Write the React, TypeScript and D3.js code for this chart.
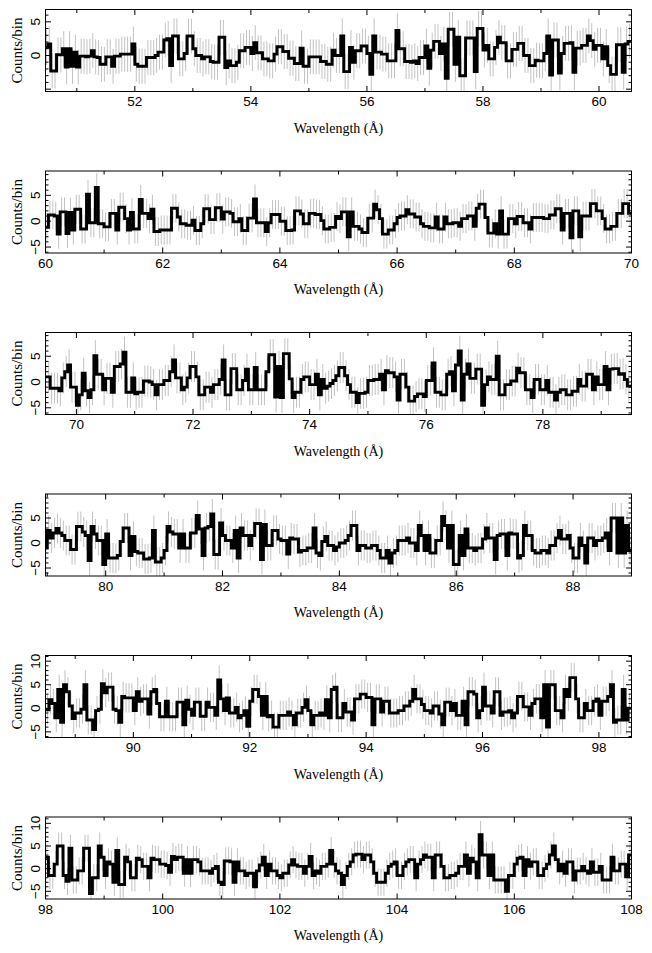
import React from 'react';
import * as d3 from 'd3';

// bin width of the spectrum (Å)
const binWidth = 0.05;

// first bin edge of each panel (Å)
const panelStarts = [50.45, 60.0, 69.45, 78.95, 88.45, 98.0];

// visible wavelength range of each panel
const xDomains = [
  [50.46, 60.56],
  [60, 70],
  [69.47, 79.52],
  [78.97, 89.0],
  [88.49, 98.56],
  [98, 108],
];

// visible counts range of each panel
const yDomains = [
  [-5.35, 6.83],
  [-6.15, 9.7],
  [-6.3, 9.6],
  [-6.6, 9.8],
  [-6.2, 11.2],
  [-6.7, 11.4],
];

// typical 1-sigma error per bin, per panel
const errors = [2.6, 2.8, 3.0, 3.0, 3.1, 3.0];

const yTickLabels = [
  [0, 5],
  [-5, 0, 5],
  [-5, 0, 5],
  [-5, 0, 5],
  [-5, 0, 5, 10],
  [-5, 0, 5, 10],
];

// counts per bin
const counts1 = [
  1.2, 1.7, -2.3, -2.3, 0.1, 0.1, 1.0, -1.7, 1.0, -1.6,
  0.5, -1.7, -0.1, -0.1, -0.2, -0.1, 0.7, -0.2, -0.3, -1.3,
  -1.3, -0.2, -0.2, -1.6, -0.1, -0.1, 0.2, 0.2, 0.2, 0.2,
  1.7, -1.3, -1.6, -1.6, -1.6, -0.3, -0.3, -0.3, 0, 0.5,
  0.5, 2.3, 2.5, -1.5, 2.9, 2.9, -0.5, -0.5, 0.3, 2.9,
  2.9, 1.0, 0, 0, -0.5, -0.2, -0.2, -0.9, -1.0, -1.0,
  2.7, 2.7, -1.8, -0.8, -1.5, -1.5, -1.0, 0.7, 0.7, 1.2,
  1.2, 0.3, 1.9, 0.4, 0.4, -0.5, -0.5, -0.8, -0.8, 0.2,
  1.3, 1.3, 0.6, 0.6, -0.4, -0.4, -1.2, -1.2, 1.1, -1.6,
  -1.6, -0.2, -0.2, -0.2, -0.2, -0.9, -0.9, -1.3, -1.3, 0.8,
  0, 0, 2.9, -2.4, -2.4, 1.2, -1.0, 0.7, 0.7, 1.4,
  1.4, 0.3, -2.8, 2.9, 0.5, 0.5, 0.2, 0.2, -0.8, -0.8,
  -0.8, 3.7, 1.0, 1.0, -0.9, -0.9, -1.0, -0.8, -1.2, -0.3,
  -0.3, 1.4, -1.9, 0.8, 2.1, 2.1, 0.3, 1.7, -3.4, 3.9,
  3.9, -1.3, 2.7, -3.0, -3.0, 2.6, 2.6, 2.6, -2.4, 4.0,
  4.0, 0.8, 1.5, -0.5, -0.5, 1.2, 2.7, 1.9, 1.9, -0.8,
  -0.8, 0.9, 0.9, 1.8, 1.8, 0, 0, -1.5, -1.5, -0.7,
  -0.8, -0.8, 0.3, 2.9, -2.9, 2.3, 2.3, -2.6, 0.3, 1.8,
  1.8, 1.9, -2.5, 1.1, 1.1, 1.5, 1.5, 2.9, 2.2, 0.9,
  1.5, 1.5, -0.5, 1.3, -1.5, -2.8, -2.8, 1.6, 1.6, -2.5,
  1.7, 2.1,
];

const counts2 = [
  -1.2, 1.2, 1.2, 1.0, -2.5, 1.8, 1.8, -2.4, 1.7, -1.7,
  2.3, 2.3, -1.5, -1.5, 5.2, -0.3, -0.3, 6.5, -0.5, -0.5,
  -1.1, -1.1, 1.5, 1.5, -1.7, 2.7, 2.7, 0.5, -1.7, 1.7,
  -1.5, -1.5, 4.2, 1.5, 1.5, 0.5, 2.3, -2.0, -2.0, -1.7,
  -1.7, -1.7, -1.7, 2.5, 2.5, 0.8, -0.5, -0.5, -0.8, -0.8,
  0.2, -1.8, -1.8, -0.5, 2.4, 2.4, 0.3, 0.3, 2.6, 2.6,
  0.4, 1.8, 1.8, 1.5, -0.1, -0.1, 0.5, -1.8, -1.8, 0.6,
  0.6, 4.3, -0.3, -0.3, -0.3, -2.0, -0.3, 1.3, 1.3, 1.3,
  0, 0, -1.8, -1.8, -1.7, 2.0, 2.0, 1.4, -0.5, -0.5,
  1.5, 1.5, 1.3, 1.3, 0.1, -1.5, -1.5, -1.2, -1.2, 0.9,
  0.5, 1.8, 1.8, -3.0, 1.8, -1.0, -1.0, -1.5, -2.2, -2.2,
  0.6, 0.6, 3.3, 2.2, 0.5, -2.5, -2.5, -1.7, -1.7, -0.5,
  0.7, 1.0, 1.0, 2.2, 1.4, 1.4, 0.8, 0.8, -0.5, -1.0,
  -1.0, -1.3, -1.3, 0.8, -1.5, -1.5, 0.8, -0.5, -0.5, -0.3,
  -0.3, -1.0, 0.5, 0.5, 1.0, 1.0, -1.0, 2.5, 3.3, 3.3,
  0.7, -2.3, -2.3, -0.5, -2.5, 2.0, -2.5, -2.5, 0.5, 0.5,
  -0.5, 0.9, 0.9, -0.3, -0.3, -1.5, 0.7, 0.7, 0.7, 0.7,
  0.5, 0.5, 1.2, 1.2, 2.4, 2.4, -1.7, 1.5, 1.5, -3.2,
  2.0, 2.0, -3.0, 1.0, 1.0, 1.0, 3.4, 3.4, 2.0, 2.0,
  0.5, -1.5, -1.5, -1.0, -1.0, 1.5, 1.5, 3.4, 3.4, 1.5,
];

const counts3 = [
  1.0, 1.0, -1.2, -1.2, -1.2, -1.7, 0.8, 2.0, 3.3, -1.0,
  -1.0, -4.5, -2.5, 1.7, -1.7, -3.0, -1.5, 5.1, 1.5, 1.5,
  -1.5, 0.7, 0.7, -2.0, 3.0, 3.0, 3.5, 5.8, -2.0, -2.0,
  0.8, -2.3, -2.0, -2.0, 0.2, 0.2, 0, -0.5, -2.5, -0.5,
  -0.5, 0.3, 0.3, 2.0, 4.3, 0.8, 0.8, -1.5, -1.0, 0.8,
  3.0, 3.0, 1.0, -2.5, -2.5, -1.0, -1.0, -2.0, -0.5, -0.5,
  0.5, 4.3, -2.5, -2.5, 2.6, 2.6, -1.5, -1.5, 0.3, 2.5,
  -1.5, -1.5, 2.8, -1.5, -1.5, -1.5, 2.0, 5.3, 5.3, -2.9,
  3.0, -3.0, 5.5, 5.5, 0.6, -3.0, -2.0, -2.0, 0.5, 1.0,
  1.0, -0.5, -0.5, 1.5, -2.5, 0.5, -1.2, -0.8, -0.3, 0.3,
  1.2, 2.8, 2.8, 1.2, -0.5, -2.0, -2.0, -4.0, -2.2, -2.2,
  -2.0, 0.3, 0.3, 0.5, 0.5, 1.5, -1.5, 2.2, 1.8, 1.8,
  1.0, -3.5, 1.5, 1.5, -1.0, -3.7, -3.7, -2.8, -2.3, -2.3,
  -2.8, 0.3, 0.3, 3.7, -2.0, -2.0, -2.5, -2.5, 1.5, 2.0,
  -1.7, 3.3, 6.0, -3.5, 1.5, 3.5, 0.7, 0.7, 2.5, 2.5,
  -4.5, -0.5, 1.0, 0.5, 0.5, 5.0, -2.5, -2.5, -0.5, -0.5,
  0.2, 0.2, 2.7, 1.8, 1.8, -1.5, -1.5, -3.0, 0.5, 0.5,
  -1.5, -1.5, 0.3, -2.0, -2.0, -3.5, -2.0, -1.5, -1.5, -2.5,
  -2.5, -1.8, -1.8, 0.5, -0.8, -0.8, 1.5, 1.5, -1.5, 1.0,
  -0.5, -0.5, 3.0, -1.5, 2.5, 2.6, 2.6, 1.5, 1.6, 0.5,
  -0.8, -0.8,
];

const counts4 = [
  -1.0, 2.5, 1.0, 2.0, 2.9, 2.0, 1.5, 0.5, 0.5, -1.3,
  -1.3, 3.3, 3.3, 2.2, 1.5, -3.5, 3.3, 1.8, 0.5, 0.5,
  -4.3, 1.8, -3.0, -3.0, -3.0, -2.5, 0.3, 3.0, 3.0, -2.5,
  1.3, -1.7, -2.0, -2.0, -3.2, -3.2, -3.0, 2.5, -3.8, -3.8,
  -3.0, -1.5, 3.3, 2.2, 1.8, 1.8, -1.0, 1.8, -1.0, -1.0,
  2.0, 2.0, 5.5, 2.8, -2.5, 3.0, 3.3, 5.8, -2.3, -2.3,
  4.0, 1.5, 0.5, 0.5, -1.0, 2.5, -3.0, 3.0, 1.5, 1.5,
  -0.5, 1.5, 3.9, 3.9, -3.3, 3.7, -0.5, -0.5, 2.5, 2.5,
  0.8, 0.5, 0.5, -2.2, 1.0, 0.8, 0.8, -1.8, -1.5, -1.5,
  -1.0, -1.0, 3.0, -2.0, -2.5, 0.3, 1.3, -0.5, -0.5, -1.5,
  -0.8, 0, 0, 0.5, 1.5, 3.5, 3.5, -1.5, -0.5, -0.5,
  -1.0, -1.0, -0.5, -0.5, -1.5, -3.0, -3.0, -1.5, -4.0, -2.0,
  -1.5, 0.5, 0.5, 0.5, 1.0, 0, 0, -1.5, 3.5, 1.5,
  -1.5, 1.5, -2.0, -2.0, 0.5, 0.5, 5.3, 3.5, -1.0, 3.5,
  -4.3, -4.3, 1.5, -2.5, 2.8, -1.0, -1.0, -1.5, -1.0, -1.0,
  0.8, 3.0, 1.0, 1.0, -3.3, 1.5, 1.8, 1.8, -2.5, 2.0,
  1.8, 1.8, -3.0, -2.5, 3.5, 1.5, 1.5, -1.5, -2.0, -2.0,
  -1.5, -1.5, -2.0, -0.5, -0.5, 1.0, 2.5, 0.8, 0.8, 1.5,
  -1.0, -3.0, -3.0, 1.0, -0.5, -4.0, 1.0, 1.0, -0.5, 0.5,
  0.5, 1.0, 2.0, -1.5, 5.0, 5.0, -2.0, 5.0, -2.0, 3.5,
  -1.5,
];

const counts5 = [
  -0.3, -0.3, 1.8, 1.0, -2.0, 4.0, -3.0, 5.0, 3.5, 0.5,
  -2.2, -1.0, -1.0, -0.2, 5.0, -2.5, -2.5, -4.5, -0.5, -0.2,
  5.2, 3.3, 4.5, 4.5, -0.2, -0.5, -3.0, 2.5, 2.2, 2.2,
  2.2, -0.5, 3.5, 1.5, 2.0, 2.0, -1.2, 3.5, 4.0, 1.0,
  -1.8, -1.8, 1.5, -1.8, -1.8, -1.8, 1.3, 1.3, -3.5, 1.7,
  -0.2, -1.5, 1.3, 1.3, -1.7, -1.7, 1.3, 0.2, 0.2, -1.5,
  6.0, 2.0, -0.5, 2.2, -1.0, -1.0, 0.2, -2.0, -1.5, -0.5,
  -3.8, 1.5, 4.0, 4.0, 2.5, -1.5, 2.5, -1.8, -1.5, -4.0,
  -4.0, -1.5, -1.5, -1.5, -0.8, -1.5, -3.5, -1.0, -1.0, 0.2,
  1.8, -0.5, -3.5, -1.5, -1.5, -1.0, -1.5, 1.8, -2.0, 4.0,
  4.5, -2.0, -2.0, 1.0, -0.8, -0.8, -2.5, 2.0, 2.0, 3.0,
  3.0, 2.3, 2.3, -3.5, 2.0, 2.0, -0.8, 1.5, 1.5, -1.0,
  -1.0, -1.0, -0.5, -0.5, 0.5, 0.5, 1.5, 4.0, 2.0, 2.0,
  0.8, -0.5, -0.5, -1.0, 0.5, 0.5, -1.2, -3.5, 1.3, 1.3,
  -0.5, 1.0, -1.5, -1.5, 1.5, -3.5, 3.5, 3.5, 3.0, -2.0,
  -0.5, 4.5, 0.5, 0.5, -1.0, 3.5, 3.5, -1.5, -0.8, -0.8,
  -0.5, -2.0, -1.0, 2.5, 2.5, 0.3, 0.3, -1.5, 1.0, 2.0,
  2.0, -2.0, 5.0, -4.0, 5.0, 5.0, -0.5, -0.5, -2.0, 4.0,
  2.5, 6.5, 6.5, 2.0, -2.0, -2.0, 1.0, -0.5, -0.5, 1.5,
  2.0, -1.5, 1.5, 1.5, 2.5, 5.0, -3.0, -2.5, -2.5, 4.0,
  -2.5, 0,
];

const counts6 = [
  2.5, -1.5, -1.5, 1.0, 5.0, 5.0, -1.5, -2.8, 4.5, -2.5,
  -2.5, -0.5, -0.5, 4.5, 4.5, -5.5, -2.0, -2.0, 5.0, 2.5,
  -1.5, 1.5, 1.0, -3.0, 4.0, -3.5, -3.5, 2.5, 1.5, -2.0,
  -2.0, 2.3, 2.0, 0.5, 0.5, -2.0, 2.3, 2.0, 2.0, 1.0,
  1.0, 0.7, -0.8, 2.7, 2.0, 2.5, 2.5, -1.0, 2.0, -1.0,
  2.0, 2.0, 1.5, -0.5, -0.5, -0.5, -1.0, 0, 0.5, -3.0,
  -3.5, 1.7, 1.7, 1.5, -3.0, 1.5, -0.5, -0.5, -1.5, -1.0,
  -1.0, -4.0, -0.5, 0.8, 2.5, -1.5, 1.0, -0.5, -0.5, -1.5,
  -2.0, -1.0, -1.0, 0.8, 2.0, 0.8, 0.5, 0.5, -1.0, 0.5,
  2.7, -1.5, -0.5, -1.0, 0.5, 0.5, 1.0, 4.0, 1.0, -0.5,
  -1.0, -3.5, -1.5, 0.5, 1.5, 3.0, 3.2, 3.2, 2.0, 3.0,
  3.0, 1.5, -1.0, -3.0, -3.0, -3.0, -1.0, 0.5, 1.0, 1.5,
  -1.5, -1.5, 0.5, 1.5, 2.0, 2.0, -2.0, 1.0, 2.0, 3.0,
  2.5, 2.5, -2.0, 3.0, 3.0, 0.5, -2.0, -2.0, -1.5, -1.5,
  -1.0, 0.5, 0.5, 3.0, -1.0, 2.3, 1.5, -2.0, 7.5, 3.0,
  3.0, -1.5, 3.0, -2.5, -2.5, -2.5, -2.5, -5.0, -1.5, -1.5,
  1.0, 2.3, 2.5, -1.5, 2.0, 0.5, 1.5, 1.5, -1.5, -1.5,
  0, 1.0, 3.0, 5.0, 2.0, -0.5, 1.0, -1.0, 1.5, 1.5,
  -2.5, -0.5, -0.5, 0.5, -0.5, -1.0, 1.5, -0.8, -0.8, 0.5,
  -2.5, -2.5, -2.5, 2.5, -0.5, -0.5, 1.0, 1.0, -1.8, 3.0,
];

const allCounts = [counts1, counts2, counts3, counts4, counts5, counts6];

const WIDTH = 652;
const HEIGHT = 953;
const plotLeft = 45.5;
const plotRight = 631.5;
const firstTop = 9.5;
const panelStep = 161.5;
const panelHeight = 82;

const sansFont = '"Liberation Sans", Arial, Helvetica, sans-serif';
const serifFont = '"Liberation Serif", "Times New Roman", Times, serif';

function Panel({ k }: { k: number }) {
  const top = firstTop + k * panelStep;
  const bottom = top + panelHeight;
  const counts = allCounts[k];
  const start = panelStarts[k];
  const err = errors[k];

  const x = d3.scaleLinear().domain(xDomains[k]).range([plotLeft, plotRight]);
  const y = d3.scaleLinear().domain(yDomains[k]).range([bottom, top]);

  const edges = counts.map((c, i) => [start + i * binWidth, c] as [number, number]);
  edges.push([start + counts.length * binWidth, counts[counts.length - 1]]);
  const step = d3
    .line<[number, number]>()
    .x((d) => x(d[0]))
    .y((d) => y(d[1]))
    .curve(d3.curveStepAfter)(edges);

  const [x0, x1] = xDomains[k];
  const xTicks = d3.range(Math.ceil(x0), Math.floor(x1) + 1);
  const [y0, y1] = yDomains[k];
  const yMinor = d3.range(Math.ceil(y0), Math.floor(y1) + 1);
  const clipId = 'clip' + k;

  return (
    <g>
      <defs>
        <clipPath id={clipId}>
          <rect x={plotLeft} y={top} width={plotRight - plotLeft} height={bottom - top} />
        </clipPath>
      </defs>
      <g clipPath={`url(#${clipId})`}>
        {counts.map((c, i) => {
          const cx = x(start + (i + 0.5) * binWidth);
          return (
            <line key={i} x1={cx} x2={cx} y1={y(c - err)} y2={y(c + err)} stroke="#c2c2c2" strokeWidth={1} />
          );
        })}
        <path d={step || ''} fill="none" stroke="#000" strokeWidth={2.9} strokeLinejoin="miter" />
      </g>
      <rect x={plotLeft} y={top} width={plotRight - plotLeft} height={bottom - top} fill="none" stroke="#000" strokeWidth={1} />
      {xTicks.map((t) => {
        const major = t % 2 === 0;
        const len = major ? 5.5 : 3.5;
        const tx = x(t);
        return (
          <g key={'x' + t}>
            <line x1={tx} x2={tx} y1={bottom} y2={bottom - len} stroke="#000" />
            <line x1={tx} x2={tx} y1={top} y2={top + len} stroke="#000" />
            {major && (
              <text x={tx} y={bottom + 14.5} textAnchor="middle" fontFamily={sansFont} fontSize={13.5}>
                {t}
              </text>
            )}
          </g>
        );
      })}
      {yMinor.map((t) => {
        const major = t % 5 === 0;
        const len = major ? 5.5 : 3;
        const ty = y(t);
        return (
          <g key={'y' + t}>
            <line x1={plotLeft} x2={plotLeft + len} y1={ty} y2={ty} stroke="#000" />
            <line x1={plotRight} x2={plotRight - len} y1={ty} y2={ty} stroke="#000" />
          </g>
        );
      })}
      {yTickLabels[k].map((t) => (
        <text
          key={'yl' + t}
          transform={`translate(35,${y(t)}) rotate(-90)`}
          dy="0.35em"
          textAnchor="middle"
          fontFamily={sansFont}
          fontSize={13.5}
        >
          {t < 0 ? '\u2212' + Math.abs(t) : t}
        </text>
      ))}
      <text
        transform={`translate(16.5,${(top + bottom) / 2}) rotate(-90)`}
        dy="0.35em"
        textAnchor="middle"
        fontFamily={serifFont}
        fontSize={15}
      >
        Counts/bin
      </text>
      <text x={(plotLeft + plotRight) / 2} y={bottom + 41} textAnchor="middle" fontFamily={serifFont} fontSize={14}>
        Wavelength (Å)
      </text>
    </g>
  );
}

export default function App() {
  return (
    <svg
      width={WIDTH}
      height={HEIGHT}
      style={{ position: 'absolute', left: 0, top: 0, background: '#fff' }}
    >
      <rect width={WIDTH} height={HEIGHT} fill="#fff" />
      {allCounts.map((_, k) => (
        <Panel key={k} k={k} />
      ))}
    </svg>
  );
}
